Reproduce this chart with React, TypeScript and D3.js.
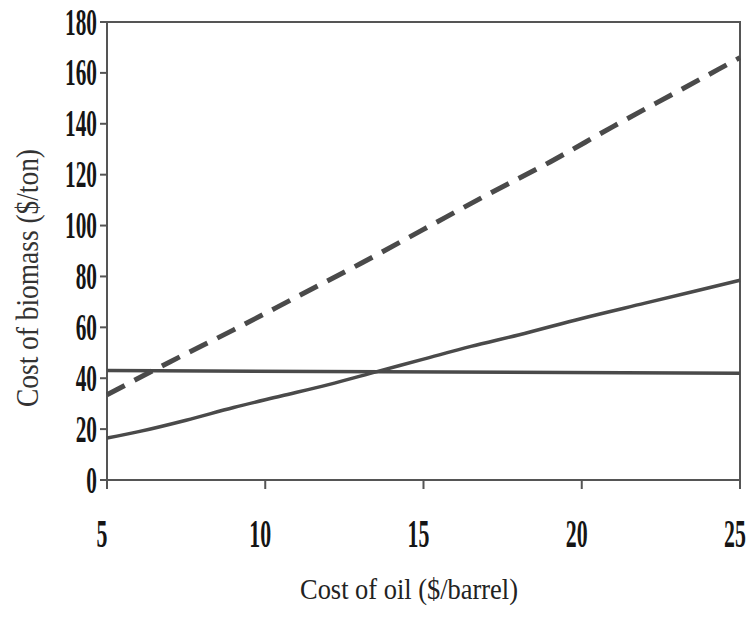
import React, { useEffect, useRef } from "react";
import * as d3 from "d3";

const oilTicks = [5, 10, 15, 20, 25];
const biomassTicks = [0, 20, 40, 60, 80, 100, 120, 140, 160, 180];

const dashedOil = [5, 7, 9, 11, 13, 15, 17, 19, 21, 23, 25];
const dashedBiomass = [33.5, 46.5, 59, 72, 85, 98.5, 112, 125, 139, 152.5, 166];

const risingOil = [5, 6, 7.5, 9, 10.5, 12, 13.5, 15, 16.5, 18, 20, 22, 25];
const risingBiomass = [16.5, 19, 23.5, 28.5, 33, 37.5, 42.5, 47.5, 52.5, 57, 63.5, 69.5, 78.5];

const flatOil = [5, 25];
const flatBiomass = [43, 42];

const xTitle = "Cost of oil ($/barrel)";
const yTitle = "Cost of biomass ($/ton)";

export default function App() {
  const ref = useRef<SVGSVGElement>(null);

  useEffect(() => {
    const svg = d3.select(ref.current);
    svg.selectAll("*").remove();

    const left = 107, right = 740, top = 22, bottom = 480;
    const x = d3.scaleLinear().domain([5, 25]).range([left, right]);
    const y = d3.scaleLinear().domain([0, 180]).range([bottom, top]);
    const lineCol = "#4a4a4a";
    const axisCol = "#555";

    // frame
    svg.append("rect")
      .attr("x", left).attr("y", top)
      .attr("width", right - left).attr("height", bottom - top)
      .attr("fill", "none").attr("stroke", axisCol).attr("stroke-width", 2);

    // y ticks
    const yg = svg.append("g");
    biomassTicks.forEach((t) => {
      yg.append("line")
        .attr("x1", left - 7).attr("x2", left)
        .attr("y1", y(t)).attr("y2", y(t))
        .attr("stroke", axisCol).attr("stroke-width", 2);
      yg.append("text")
        .attr("transform", `translate(97,${y(t) + 12.5}) scale(0.56,1)`)
        .attr("text-anchor", "end")
        .attr("font-family", "Liberation Serif")
        .attr("font-weight", "bold")
        .attr("font-size", 38)
        .attr("fill", "#151515")
        .text(String(t));
    });

    // x ticks
    const xg = svg.append("g");
    oilTicks.forEach((t) => {
      xg.append("line")
        .attr("x1", x(t)).attr("x2", x(t))
        .attr("y1", bottom).attr("y2", bottom + 9)
        .attr("stroke", axisCol).attr("stroke-width", 2);
      xg.append("text")
        .attr("transform", `translate(${x(t) - 5},547) scale(0.56,1)`)
        .attr("text-anchor", "middle")
        .attr("font-family", "Liberation Serif")
        .attr("font-weight", "bold")
        .attr("font-size", 39)
        .attr("fill", "#151515")
        .text(String(t));
    });

    const line = d3.line<[number, number]>()
      .x((d) => x(d[0]))
      .y((d) => y(d[1]))
      .curve(d3.curveMonotoneX);

    svg.append("path")
      .datum(flatOil.map((v, i) => [v, flatBiomass[i]] as [number, number]))
      .attr("d", line)
      .attr("fill", "none").attr("stroke", lineCol).attr("stroke-width", 3.5);

    svg.append("path")
      .datum(risingOil.map((v, i) => [v, risingBiomass[i]] as [number, number]))
      .attr("d", line)
      .attr("fill", "none").attr("stroke", lineCol).attr("stroke-width", 3.5);

    svg.append("path")
      .datum(dashedOil.map((v, i) => [v, dashedBiomass[i]] as [number, number]))
      .attr("d", line)
      .attr("fill", "none").attr("stroke", lineCol).attr("stroke-width", 5)
      .attr("stroke-dasharray", "20 11");

    // titles
    svg.append("text")
      .attr("x", 300).attr("y", 599)
      .attr("font-family", "Liberation Serif")
      .attr("font-size", 30)
      .attr("fill", "#222")
      .attr("textLength", 218)
      .attr("lengthAdjust", "spacingAndGlyphs")
      .text(xTitle);

    svg.append("text")
      .attr("transform", "translate(38,407) rotate(-90)")
      .attr("font-family", "Liberation Serif")
      .attr("font-size", 31)
      .attr("fill", "#333")
      .attr("textLength", 258)
      .attr("lengthAdjust", "spacingAndGlyphs")
      .text(yTitle);
  }, []);

  return (
    <svg
      ref={ref}
      width={748}
      height={621}
      style={{ position: "absolute", left: 0, top: 0, background: "#fff" }}
    />
  );
}
